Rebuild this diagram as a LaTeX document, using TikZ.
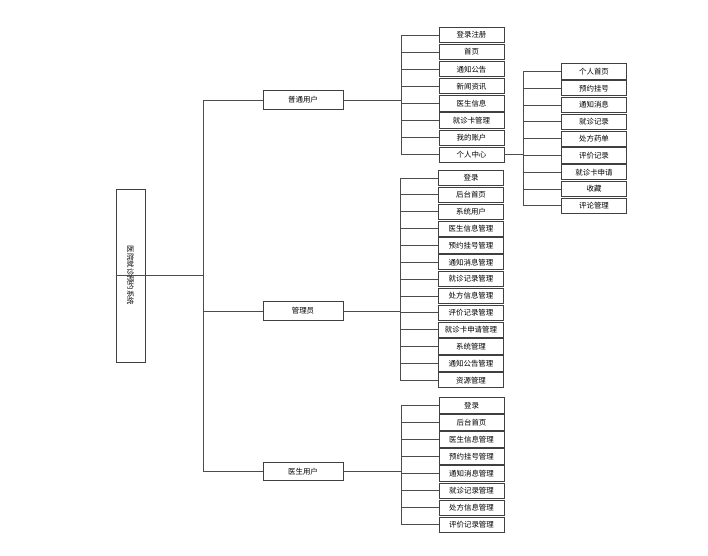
\documentclass[tikz,border=0pt]{standalone}
\usepackage{fontspec}
\newfontfamily\cjk{Noto Sans CJK SC}
\usetikzlibrary{positioning}
\tikzset{
  sysbox/.style={draw=black!75, fill=white, line width=0.6pt, font=\cjk\fontsize{5.6}{6}\selectfont,
                 rotate=-90, inner sep=0pt, minimum width=129.75pt, minimum height=21.75pt},
  role/.style={draw=black!75, fill=white, line width=0.6pt, font=\cjk\fontsize{5.6}{6}\selectfont,
               inner sep=0pt, minimum width=60pt, minimum height=14pt},
  item/.style={draw=black!75, fill=white, line width=0.6pt, font=\cjk\fontsize{5.6}{6}\selectfont,
               inner sep=0pt, minimum width=48.75pt, minimum height=11.4pt},
  link/.style={draw=black!70, line width=0.6pt},
}
\begin{document}
\begin{tikzpicture}[x=0.75pt, y=-0.75pt]
\useasboundingbox (0,0) rectangle (708,556);

% root and the three roles
\node[sysbox] (sys) at (130.5,275.5) {医院就诊预约系统};
\node[role] (pt) at (303,100) {普通用户};
\node[role] (gl) at (303,311) {管理员};
\node[role] (ys) at (303,471.5) {医生用户};
\coordinate (j0) at (203,275.5);
\draw[link] (sys.south) -- (j0);
\foreach \r in {pt,gl,ys} {
  \draw[link] (j0) |- (\r.west);
}

% ordinary user
\coordinate (j1) at (401,100);
\draw[link] (pt.east) -- (j1);
\foreach \t [count=\i] in {登录注册,首页,通知公告,新闻资讯,医生信息,就诊卡管理,我的账户,个人中心} {
  \node[item] (pt\i) at (471.5,{35+(\i-1)*17.1}) {\t};
  \draw[link] (j1) |- (pt\i.west);
}

% personal centre
\coordinate[right=14.25pt of pt8.east] (j2);
\draw[link] (pt8.east) -- (j2);
\foreach \t [count=\i] in {个人首页,预约挂号,通知消息,就诊记录,处方药单,评价记录,就诊卡申请,收藏,评论管理} {
  \node[item] (gr\i) at (594,{71.5+(\i-1)*16.8}) {\t};
  \draw[link] (j2) |- (gr\i.west);
}

% administrator
\coordinate (j3) at (400,311);
\draw[link] (gl.east) -- (j3);
\foreach \t [count=\i] in {登录,后台首页,系统用户,医生信息管理,预约挂号管理,通知消息管理,就诊记录管理,处方信息管理,评价记录管理,就诊卡申请管理,系统管理,通知公告管理,资源管理} {
  \node[item] (gl\i) at (471,{178+(\i-1)*16.85}) {\t};
  \draw[link] (j3) |- (gl\i.west);
}

% doctor
\coordinate (j4) at (401,471.5);
\draw[link] (ys.east) -- (j4);
\foreach \t [count=\i] in {登录,后台首页,医生信息管理,预约挂号管理,通知消息管理,就诊记录管理,处方信息管理,评价记录管理} {
  \node[item] (ys\i) at (471.5,{405.5+(\i-1)*17}) {\t};
  \draw[link] (j4) |- (ys\i.west);
}
\end{tikzpicture}
\end{document}
